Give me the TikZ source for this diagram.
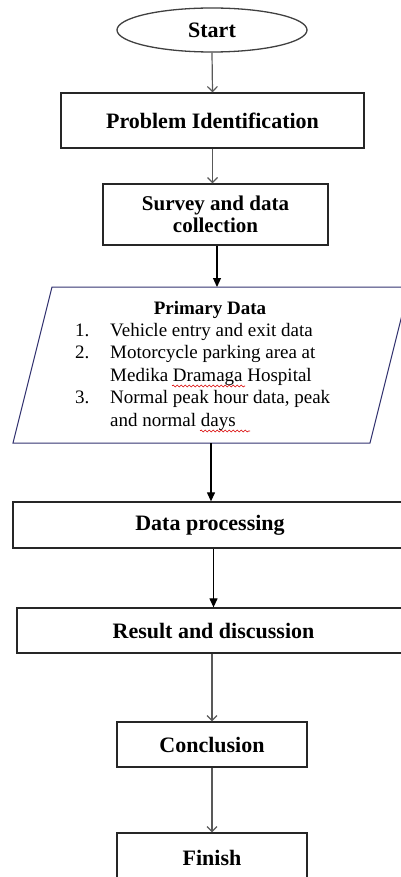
\documentclass[tikz,border=0pt]{standalone}
\usepackage{fontspec}
\setmainfont{Liberation Serif}
\usetikzlibrary{arrows.meta,shapes.geometric,decorations.pathmorphing}
\begin{document}
\begin{tikzpicture}[x=1pt,y=-1pt,
  box/.style={draw=black!85, line width=1.3pt, rectangle, inner sep=0pt, align=center,
    font=\fontsize{22}{22}\selectfont\bfseries},
  openarr/.style={draw=black!65, line width=1.2pt, -{Straight Barb[length=5pt,width=10pt]}},
  fillarr/.style={draw=black, line width=1.2pt, -{Triangle[length=9pt,width=8pt]}},
  squiggle/.style={draw=red!85!black, line width=0.6pt, decorate,
    decoration={snake, amplitude=1pt, segment length=4pt}}
]
\useasboundingbox (0,0) rectangle (401,877);
\clip (0,0) rectangle (401,877);

% nodes
\node[ellipse, draw=black!75, line width=1.3pt, minimum width=190pt, minimum height=44pt,
      inner sep=0pt, font=\fontsize{22}{22}\selectfont\bfseries] (start) at (212,30) {Start};
\node[box, minimum width=303pt, minimum height=55pt] (pi) at (212.5,120.5) {Problem Identification};
\node[box, minimum width=225pt, minimum height=61pt, font=\fontsize{21}{22}\selectfont\bfseries]
      (survey) at (215.5,214.5) {Survey and data\\collection};

% parallelogram (primary data)
\coordinate (ptl) at (52,287);
\coordinate (ptr) at (409,287);
\coordinate (pbr) at (370,443);
\coordinate (pbl) at (13,443);
\coordinate (pdtop) at (217,287);
\coordinate (pdbot) at (211,443);
\draw[draw=blue!30!black!80, line width=1pt] (ptl) -- (ptr) -- (pbr) -- (pbl) -- cycle;
\node[inner sep=0pt, anchor=base, font=\fontsize{19}{22.5}\selectfont\bfseries] (pdtitle) at (210,314) {Primary Data};
\node[inner sep=0pt, anchor=base west] (pdlist) at (75,336) {%
  \fontsize{19}{22.5}\selectfont
  \begin{tabular}[t]{@{}p{35pt}@{}l@{}}
  1. & Vehicle entry and exit data\\
  2. & Motorcycle parking area at\\
     & Medika Dramaga Hospital\\
  3. & Normal peak hour data, peak\\
     & and normal days
  \end{tabular}};
\coordinate (sq1a) at (172,386);
\coordinate (sq1b) at (245,386);
\coordinate (sq2a) at (200,431);
\coordinate (sq2b) at (250,431);
\draw[squiggle] (sq1a) -- (sq1b);
\draw[squiggle] (sq2a) -- (sq2b);

\node[box, minimum width=394pt, minimum height=46pt] (dp) at (210,525) {Data processing};
\node[box, minimum width=393pt, minimum height=45pt] (res) at (213.5,630.5) {Result and discussion};
\node[box, minimum width=190pt, minimum height=45pt] (conc) at (212,744.5) {Conclusion};
\node[box, minimum width=190pt, minimum height=50pt] (fin) at (212,858) {Finish};

% connectors
\draw[openarr] (start.south) -- (pi.north);
\draw[openarr] (pi.south) -- (pi.south |- survey.north);
\draw[fillarr] (pdtop |- survey.south) -- (pdtop);
\draw[fillarr] (pdbot) -- (pdbot |- dp.north);
\draw[fillarr] (res.north |- dp.south) -- (res.north);
\draw[openarr] (conc.north |- res.south) -- (conc.north);
\draw[openarr] (conc.south) -- (fin.north);
\end{tikzpicture}
\end{document}
